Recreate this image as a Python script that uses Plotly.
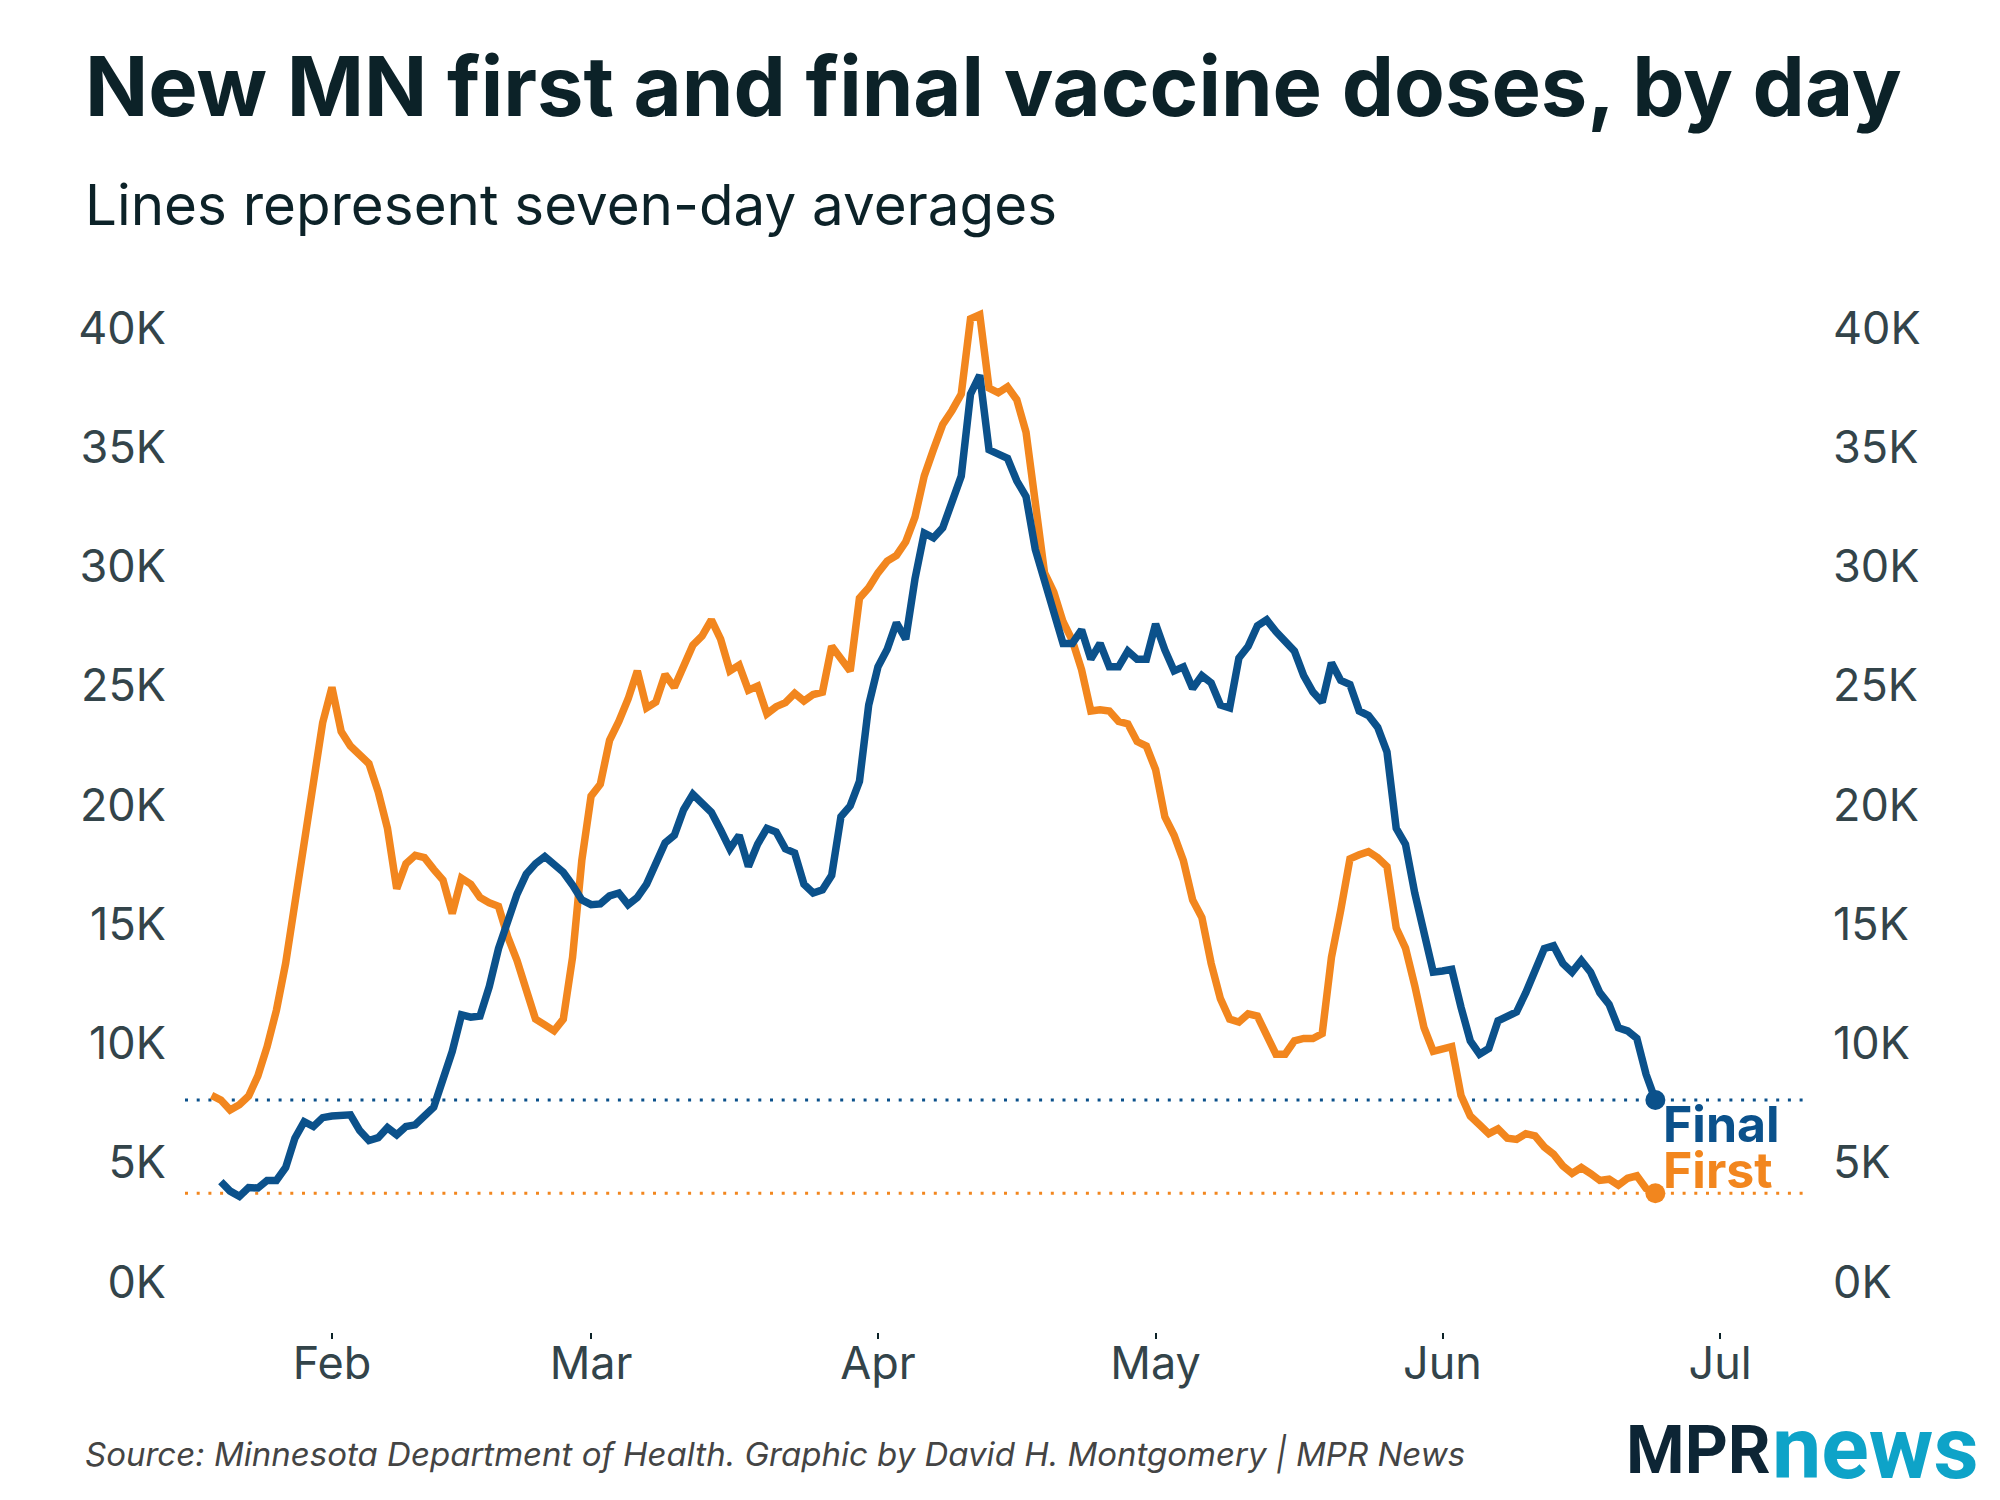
import pandas as pd
import plotly.graph_objects as go

# ---------------- data (seven-day averages, thousands of doses) ----------------
first_start = "2021-01-19"
first_doses = [
    7.82, 7.63, 7.21, 7.43, 7.80, 8.64, 9.87, 11.39, 13.36, 15.95, 18.41, 20.62, 23.45,
    24.93, 23.08, 22.47, 22.10, 21.73, 20.55, 19.02, 16.49, 17.54, 17.89, 17.79, 17.30,
    16.85, 15.45, 16.93, 16.68, 16.12, 15.90, 15.75, 14.47, 13.48, 12.25, 11.02, 10.78,
    10.53, 11.02, 13.61, 17.67, 20.37, 20.87, 22.71, 23.50, 24.44, 25.62, 24.07, 24.31,
    25.47, 24.93, 25.90, 26.70, 27.09, 27.76, 26.95, 25.62, 25.86, 24.81, 24.98, 23.82,
    24.12, 24.29, 24.68, 24.36, 24.63, 24.73, 26.65, 26.08, 25.62, 28.67, 29.11, 29.73,
    30.22, 30.46, 31.03, 32.07, 33.79, 34.90, 35.95, 36.54, 37.23, 40.38, 40.55, 37.48,
    37.28, 37.53, 36.99, 35.63, 32.80, 29.73, 28.92, 27.68, 26.90, 25.67, 23.94, 23.99,
    23.94, 23.50, 23.40, 22.66, 22.47, 21.48, 19.50, 18.73, 17.67, 16.02, 15.28, 13.36,
    11.88, 11.02, 10.90, 11.24, 11.15, 10.41, 9.55, 9.55, 10.11, 10.21, 10.21, 10.41,
    13.61, 15.58, 17.74, 17.91, 18.04, 17.79, 17.42, 14.84, 14.00, 12.43, 10.66, 9.67,
    9.79, 9.87, 7.82, 6.96, 6.59, 6.22, 6.42, 6.03, 5.98, 6.22, 6.13, 5.66, 5.36, 4.87,
    4.55, 4.80, 4.55, 4.26, 4.31, 4.06, 4.35, 4.45, 3.92, 3.72,
]
final_start = "2021-01-20"
final_doses = [
    4.21, 3.81, 3.59, 3.96, 3.94, 4.26, 4.26, 4.80, 6.03, 6.72, 6.52, 6.89,
    6.96, 7.01, 7.01, 6.35, 5.93, 6.05, 6.47, 6.17, 6.52, 6.59, 6.91, 7.33,
    8.50, 9.67, 11.20, 11.10, 11.15, 12.38, 13.98, 15.21, 16.26, 17.10, 17.54, 17.84,
    17.54, 17.18, 16.64, 16.02, 15.82, 15.85, 16.19, 16.31, 15.82, 16.12, 16.68, 17.54,
    18.41, 18.73, 19.80, 20.45, 20.06, 19.69, 18.95, 18.16, 18.73, 17.42, 18.36, 19.02,
    18.87, 18.16, 17.99, 16.68, 16.31, 16.44, 17.05, 19.51, 19.96, 20.99, 24.19, 25.79,
    26.53, 27.64, 26.95, 29.48, 31.40, 31.20, 31.62, 32.68, 33.79, 37.23, 38.02, 34.89,
    34.72, 34.53, 33.59, 32.93, 30.71, 29.41, 28.00, 26.77, 26.77, 27.34, 26.11, 26.77,
    25.79, 25.79, 26.45, 26.11, 26.11, 27.59, 26.50, 25.62, 25.79, 24.88, 25.42, 25.12,
    24.19, 24.07, 26.16, 26.65, 27.51, 27.76, 27.27, 26.90, 26.45, 25.42, 24.73, 24.31,
    25.96, 25.22, 25.05, 23.94, 23.75, 23.25, 22.22, 19.02, 18.35, 16.31, 14.59, 12.99,
    13.04, 13.11, 11.52, 10.11, 9.55, 9.79, 10.95, 11.15, 11.32, 12.13, 13.11, 13.98,
    14.10, 13.36, 12.99, 13.48, 12.99, 12.13, 11.64, 10.66, 10.53, 10.21, 8.70, 7.63,
]
month_ticks = ["2021-02-01", "2021-03-01", "2021-04-01", "2021-05-01", "2021-06-01", "2021-07-01"]
month_labels = ["Feb", "Mar", "Apr", "May", "Jun", "Jul"]
y_ticks = [0, 5, 10, 15, 20, 25, 30, 35, 40]
x_range = ["2021-01-16 03:00", "2021-07-10 17:00"]
y_range = [-2.096, 41.17]

first_dates = pd.date_range(first_start, periods=len(first_doses), freq="D")
final_dates = pd.date_range(final_start, periods=len(final_doses), freq="D")

# ---------------- style ----------------
BLUE = "#0b518b"
ORANGE = "#f2861e"
DARK = "#0c2228"
TICK = "#33444a"
W, H = 2000, 1500
L, R, T, B = 185, 1810, 300, 1332


def px(x):
    return (x - L) / (R - L)


def py(y):
    return (B - y) / (B - T)


fig = go.Figure()

fig.add_trace(go.Scatter(x=first_dates, y=first_doses, mode="lines",
                         line=dict(color=ORANGE, width=7.5), hoverinfo="skip"))
fig.add_trace(go.Scatter(x=final_dates, y=final_doses, mode="lines",
                         line=dict(color=BLUE, width=7.5), hoverinfo="skip"))
# end dots
fig.add_trace(go.Scatter(x=[first_dates[-1]], y=[first_doses[-1]], mode="markers",
                         marker=dict(color=ORANGE, size=20), hoverinfo="skip"))
fig.add_trace(go.Scatter(x=[final_dates[-1]], y=[final_doses[-1]], mode="markers",
                         marker=dict(color=BLUE, size=20), hoverinfo="skip"))
# invisible trace on the right-hand axis so it renders
fig.add_trace(go.Scatter(x=[first_dates[0]], y=[first_doses[0]], yaxis="y2",
                         mode="markers", marker=dict(opacity=0), hoverinfo="skip"))

# dotted reference lines at latest values
for val, col in [(final_doses[-1], BLUE), (first_doses[-1], ORANGE)]:
    fig.add_shape(type="line", xref="paper", x0=0, x1=1, yref="y", y0=val, y1=val,
                  line=dict(color=col, width=3, dash="3px,8.7px"), layer="below")

axis_font = dict(family="Inter", size=45, color=TICK)
fig.update_layout(
    width=W, height=H,
    margin=dict(l=L, r=W - R, t=T, b=H - B, pad=0),
    paper_bgcolor="white", plot_bgcolor="white",
    showlegend=False,
    xaxis=dict(type="date", range=x_range, tickvals=month_ticks, ticktext=month_labels,
               showgrid=False, zeroline=False, showline=False,
               ticks="outside", ticklen=6, tickwidth=1.5, tickcolor=DARK,
               tickfont=dict(family="Inter", size=45, color=TICK), ticklabelstandoff=-14),
    yaxis=dict(range=y_range, tickvals=y_ticks, ticktext=[f"{v}K" for v in y_ticks],
               showgrid=False, zeroline=False, showline=False, ticks="",
               tickfont=axis_font, ticklabelstandoff=18),
    yaxis2=dict(range=y_range, tickvals=y_ticks, ticktext=[f"{v}K" for v in y_ticks],
                overlaying="y", side="right", showgrid=False, zeroline=False,
                showline=False, ticks="", tickfont=axis_font, ticklabelstandoff=22),
)

# titles and notes
fig.add_annotation(text="<b>New MN first and final vaccine doses, by day</b>",
                   xref="paper", yref="paper", x=px(83), y=py(86), xanchor="left",
                   yanchor="middle", showarrow=False,
                   font=dict(family="Inter", size=83, color=DARK))
fig.add_annotation(text="Lines represent seven-day averages",
                   xref="paper", yref="paper", x=px(83), y=py(204), xanchor="left",
                   yanchor="middle", showarrow=False,
                   font=dict(family="Inter", size=56.5, color=DARK))
fig.add_annotation(text="<i>Source: Minnesota Department of Health. Graphic by David H. Montgomery | MPR News</i>",
                   xref="paper", yref="paper", x=px(83), y=py(1454), xanchor="left",
                   yanchor="middle", showarrow=False,
                   font=dict(family="Inter", size=33, color="#444444"))
# line labels
fig.add_annotation(text="<b>Final</b>", x=final_dates[-1], y=final_doses[-1],
                   xref="x", yref="y", xanchor="left", yanchor="middle",
                   xshift=6, yshift=-24, showarrow=False,
                   font=dict(family="Inter", size=50, color=BLUE))
fig.add_annotation(text="<b>First</b>", x=first_dates[-1], y=first_doses[-1],
                   xref="x", yref="y", xanchor="left", yanchor="middle",
                   xshift=6, yshift=23, showarrow=False,
                   font=dict(family="Inter", size=50, color=ORANGE))
# logo
fig.add_annotation(text="<b>MPR</b>", xref="paper", yref="paper", x=px(1624), y=py(1450),
                   xanchor="left", yanchor="middle", showarrow=False,
                   font=dict(family="Roboto", size=67, color="#0d2535", weight=900))
fig.add_annotation(text="<b>news</b>", xref="paper", yref="paper", x=px(1770), y=py(1447),
                   xanchor="left", yanchor="middle", showarrow=False,
                   font=dict(family="Roboto", size=88, color="#0ea3c8", weight=900))

fig.write_html("out.html", config={"displayModeBar": False},
               post_script="document.body.style.margin='0';document.body.style.padding='0';")
